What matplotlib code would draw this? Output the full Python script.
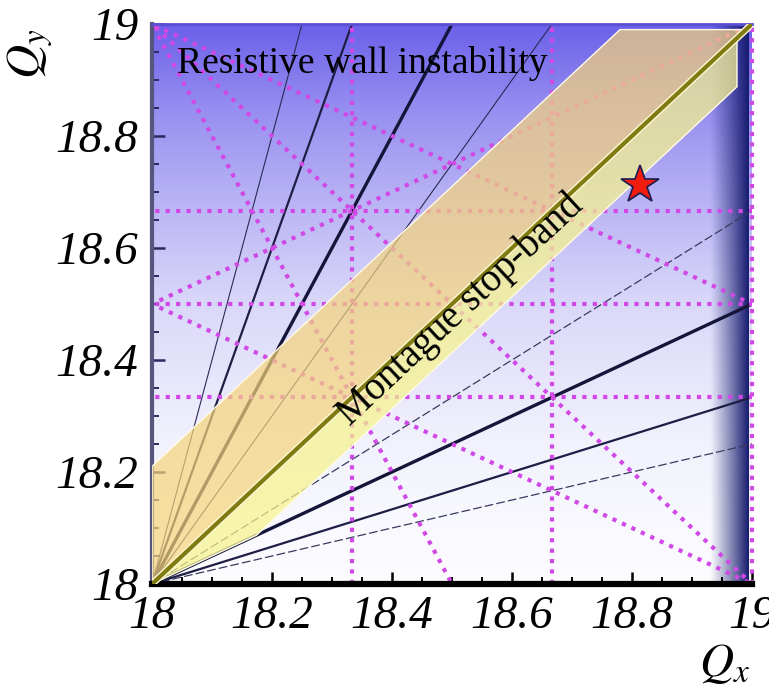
import numpy as np
import matplotlib
matplotlib.use("Agg")
import matplotlib.pyplot as plt
from matplotlib.patches import Polygon

plt.rcParams['mathtext.fontset'] = 'stix'

# tick values and labels
qx_ticks = [18, 18.2, 18.4, 18.6, 18.8, 19]
qx_labels = ['18', '18.2', '18.4', '18.6', '18.8', '19']
qy_ticks = [18, 18.2, 18.4, 18.6, 18.8, 19]
qy_labels = ['18', '18.2', '18.4', '18.6', '18.8', '19']

# resonance lines through (18,18): a*Qx + b*Qy = c
res_a = [4, 3, 2, 3, 2, 1, 1, 1]
res_b = [-1, -1, -1, -2, -3, -2, -3, -4]
res_c = [54, 36, 18, 18, -18, -18, -36, -54]
res_kind = ['thin', 'mid', 'thick', 'thin', 'dash', 'thick', 'mid', 'dash']

# coupling / third order lines (magenta dotted): a*Qx + b*Qy = c
mag_a = [3, 3, 1, 0, 0, 0, 2, 1, 1, 1, -1]
mag_b = [0, 0, 0, 3, 2, 3, 1, 1, 2, 2, 2]
mag_c = [55, 56, 19, 55, 37, 56, 55, 37, 55, 56, 19]

# Montague stop-band (upper / lower parts)
band_up_qx = [18.0, 18.0, 18.78, 18.99]
band_up_qy = [18.0, 18.21, 18.99, 18.99]
band_lo_qx = [18.0, 18.975, 18.975, 18.174]
band_lo_qy = [18.0, 18.975, 18.888, 18.087]

# working point
star_qx = [18.813]
star_qy = [18.712]

fig = plt.figure(figsize=(7.69, 6.89), dpi=100)
ax = fig.add_axes([152/769, 1-584/689, 600/769, 560/689])
ax.set_xlim(18, 19)
ax.set_ylim(18, 19)

# background: blue from top fading to white
qy_anchor = [18.0, 18.25, 18.5, 18.7, 18.85, 19.0]
col_anchor = np.array([[253, 253, 255], [242, 242, 253], [218, 216, 249],
                       [182, 176, 244], [150, 142, 240], [108, 96, 234]]) / 255.
yy = np.linspace(18, 19, 300)
bg = np.stack([np.interp(yy, qy_anchor, col_anchor[:, k]) for k in range(3)], axis=-1)
bg = np.repeat(bg[:, None, :], 2, axis=1)
ax.imshow(bg, extent=[18, 19, 18, 19], origin='lower', aspect='auto', zorder=0)

# dark strip at the right edge
s = np.linspace(0, 1, 100)
strip = np.zeros((2, 100, 4))
strip[..., 0] = 22/255.
strip[..., 1] = 28/255.
strip[..., 2] = 110/255.
strip[..., 3] = s**1.1
ax.imshow(strip, extent=[18.93, 18.995, 18, 19], origin='lower', aspect='auto', zorder=0.5)


def line_pts(a, b, c):
    if b == 0:
        return [c/a, c/a], [18, 19]
    x = np.array([17.5, 19.5])
    return x, (c - a*x)/b


styles = {'thin': dict(lw=0.8, color='#2a2a55', ls='-'),
          'dash': dict(lw=0.9, color='#3a3a60', ls=(0, (7, 2.5))),
          'mid': dict(lw=1.6, color='#1e1e45', ls='-'),
          'thick': dict(lw=2.4, color='#15153a', ls='-')}
for a, b, c, k in zip(res_a, res_b, res_c, res_kind):
    x, y = line_pts(a, b, c)
    ax.plot(x, y, zorder=1, **styles[k])

for a, b, c in zip(mag_a, mag_b, mag_c):
    x, y = line_pts(a, b, c)
    clip = not (a == 1 and b == 0 and c == 19)
    ax.plot(x, y, color='#d048e6', lw=3.0, ls=(0, (1, 1.5)), zorder=2, clip_on=clip)

# stop-band
ax.add_patch(Polygon(list(zip(band_up_qx, band_up_qy)), closed=True,
                     facecolor='#f6d47a', alpha=0.7, edgecolor='none', zorder=3))
ax.add_patch(Polygon(list(zip(band_lo_qx, band_lo_qy)), closed=True,
                     facecolor='#f7f48c', alpha=0.72, edgecolor='none', zorder=3))
ax.add_patch(Polygon(list(zip(band_up_qx, band_up_qy)), closed=True,
                     facecolor='none', edgecolor='#fffbe6', lw=1.0, zorder=3.2))
ax.add_patch(Polygon(list(zip(band_lo_qx, band_lo_qy)), closed=True,
                     facecolor='none', edgecolor='#fffbe6', lw=1.0, zorder=3.2))

# main diagonal Qx = Qy
ax.plot([18, 19], [18, 19], color='#fdf8d0', lw=5.0, zorder=4, solid_capstyle='butt')
ax.plot([18, 19], [18, 19], color='#7f7a12', lw=3.0, zorder=4.1, solid_capstyle='butt')

ax.plot(star_qx, star_qy, marker='*', ms=29, color='#f21d10',
        markeredgecolor='#1c1c50', markeredgewidth=1.2, ls='none', zorder=6)

ax.text(18.042, 18.9125, 'Resistive wall instability', fontsize=27,
        family='Liberation Serif', color='black', ha='left', va='baseline', zorder=7)
ax.text(18.515, 18.49, 'Montague stop-band', fontsize=28, family='Liberation Serif',
        color='black', rotation=43.0, rotation_mode='anchor', ha='center', va='center', zorder=7)

# axes decoration
ax.set_xticks(qx_ticks)
ax.set_xticklabels(qx_labels)
ax.set_yticks(qy_ticks)
ax.set_yticklabels(qy_labels)
ax.set_xticks(np.arange(18, 19.001, 0.05), minor=True)
ax.set_yticks(np.arange(18, 19.001, 0.05), minor=True)
ax.tick_params(which='major', direction='in', length=9, width=1.8, color='black', pad=8)
ax.tick_params(which='minor', direction='in', length=5, width=1.4, color='black')
ax.tick_params(axis='y', which='both', colors='#2a2a60', labelcolor='black', pad=10)
for lab in ax.get_xticklabels() + ax.get_yticklabels():
    lab.set_fontfamily('Liberation Serif')
    lab.set_fontstyle('italic')
    lab.set_fontsize(34)

ax.spines['bottom'].set_linewidth(4.5)
ax.spines['bottom'].set_color('black')
ax.spines['left'].set_linewidth(3)
ax.spines['left'].set_color('#55557e')
ax.spines['top'].set_linewidth(2)
ax.spines['top'].set_color('#5a4fd0')
ax.spines['right'].set_visible(False)

fig.text(30/769, 1-54/689, r'$Q_y$', fontsize=34, rotation=90, ha='center', va='center')
fig.text(724/769, 1-663/689, r'$Q_x$', fontsize=34, ha='center', va='center')

fig.savefig('out.png', dpi=100)
